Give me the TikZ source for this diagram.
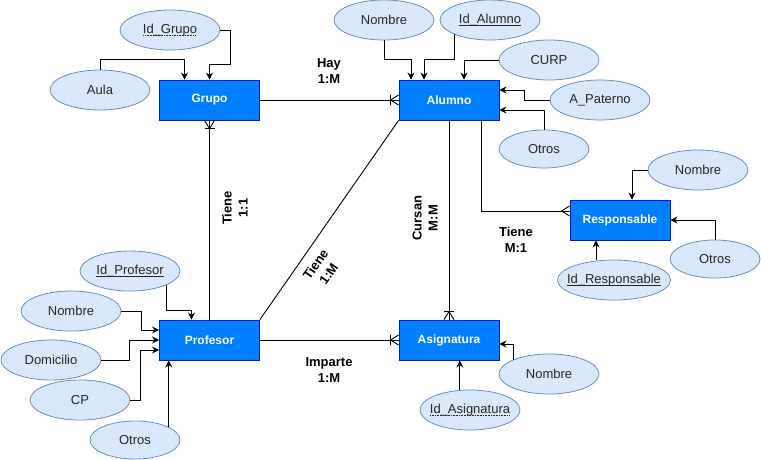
\documentclass[tikz,border=0pt]{standalone}
\usepackage{fontspec}
\setmainfont{Liberation Sans}
\usetikzlibrary{arrows.meta,shapes.geometric,calc}
\definecolor{entfill}{HTML}{007FFF}
\definecolor{entdraw}{HTML}{001DBC}
\definecolor{attfill}{HTML}{DAE8FC}
\definecolor{attdraw}{HTML}{6C8EBF}
\newcommand\myuline[1]{\setbox0\hbox{#1}\leavevmode\rlap{\raisebox{-2.6pt}{\rule{\wd0}{0.7pt}}}\box0}
\newcommand\mydotline[1]{\setbox0\hbox{#1}\leavevmode\rlap{\raisebox{-2.6pt}{\hbox to \wd0{\leaders\hbox to 1.6pt{\hss\rule{0.8pt}{0.8pt}\hss}\hfill}}}\box0}
\begin{document}
\begin{tikzpicture}[x=1pt,y=-1pt,
 ent/.style={draw=entdraw,fill=entfill,minimum width=100pt,minimum height=40pt,inner sep=0pt,text=white,font=\fontsize{12}{14}\selectfont\bfseries,line width=0.9pt},
 att/.style={ellipse,draw=attdraw,fill=attfill,minimum width=100pt,minimum height=40pt,inner sep=0pt,font=\fontsize{13}{15}\selectfont,text=black!85,line width=0.8pt},
 attsm/.style={att,minimum width=90pt,minimum height=38pt},
 con/.style={line width=0.9pt},
 arr/.style={con,-{Stealth[length=7pt,width=7pt]}},
 lbl/.style={font=\fontsize{13}{16}\selectfont\bfseries,align=center,inner sep=0pt},
]
\useasboundingbox (0,0) rectangle (761,459);
% entities
\node[ent] (grupo) at (209.5,100) {Grupo};
\node[ent] (alumno) at (449,100) {Alumno};
\node[ent] (prof) at (209.5,340) {Profesor};
\node[ent] (asig) at (449,340) {Asignatura};
\node[ent] (resp) at (620,220) {Responsable};
% attributes
\node[att] (idG) at (170,30) {\mydotline{Id\_Grupo}};
\node[att] (aula) at (100,90) {Aula};
\node[att] (nomA) at (384,20) {Nombre};
\node[att] (idA) at (490,20) {\myuline{Id\_Alumno}};
\node[att] (curp) at (549,60) {CURP};
\node[att] (apat) at (600,100) {A\_Paterno};
\node[attsm] (otrA) at (544,149) {Otros};
\node[att] (nomR) at (698,170) {Nombre};
\node[attsm] (otrR) at (715,259) {Otros};
\node[att,minimum width=113pt,inner xsep=-8pt] (idR) at (614,280) {\myuline{Id\_Responsable}};
\node[att] (idP) at (130,271) {\myuline{Id\_Profesor}};
\node[att] (nomP) at (71,311) {Nombre};
\node[att] (domP) at (51,360) {Domicilio};
\node[att] (cpP) at (80,400) {CP};
\node[attsm] (otrP) at (135,440) {Otros};
\node[att] (nomAs) at (549,374) {Nombre};
\node[att,inner xsep=-6pt] (idAs) at (470,410) {\mydotline{Id\_Asignatura}};
% attribute connectors
\draw[arr] (idG.east) -- ++(10,0) |- ([yshift=15pt]grupo.north) -- (grupo.north);
\draw[arr] (aula.north) |- ([xshift=-25pt,yshift=20pt]grupo.north) -- ([xshift=-25pt]grupo.north);
\draw[arr] (nomA.south) |- ([xshift=-38pt,yshift=20pt]alumno.north) -- ([xshift=-38pt]alumno.north);
\draw[arr] (idA.-158) |- ([xshift=-25pt,yshift=20pt]alumno.north) -- ([xshift=-25pt]alumno.north);
\draw[arr] (curp.west) -| ([xshift=15pt]alumno.north);
\draw[arr] (apat.west) -- ++(-25,0) |- ([yshift=10pt]alumno.east);
\draw[arr] (otrA.north) |- ([yshift=-10pt]alumno.east);
\draw[arr] (nomR.west) -| ([xshift=12pt]resp.north);
\draw[arr] (otrR.north) |- (resp.east);
\coordinate (rIn) at ([xshift=-24pt]resp.south);
\draw[arr] (idR.north -| rIn) -- (rIn);
\draw[arr] (idP.-21) |- ([xshift=-18pt,yshift=9pt]prof.north) -- ([xshift=-18pt]prof.north);
\draw[arr] (nomP.east) -- ++(20,0) |- ([yshift=10pt]prof.west);
\draw[arr] (domP.east) -- ++(28,0) |- (prof.west);
\draw[arr] (cpP.east) -- ++(10,0) |- ([yshift=-10pt]prof.west);
\draw[arr] (otrP.21) -- (otrP.21 |- prof.south);
\draw[arr] (nomAs.158) |- ([yshift=-4pt]asig.east);
\draw[arr] (idAs.117) -- (idAs.117 |- asig.south);
% relationships
\draw[con] (grupo.east) -- (alumno.west);
\draw[con] (grupo.south) -- (prof.north);
\draw[con] (alumno.south west) -- (prof.north east);
\draw[con] (alumno.south) -- (asig.north);
\draw[con] ([xshift=32pt]alumno.south) |- ([yshift=9pt]resp.west);
\draw[con] (prof.east) -- (asig.west);
% crow's feet
\draw[con] ([xshift=-8pt]alumno.west) ++(0,-5) -- ++(0,10);
\draw[con] ([yshift=5pt]alumno.west) -- ([xshift=-8pt]alumno.west) -- ([yshift=-5pt]alumno.west);
\draw[con] ([yshift=-8pt]grupo.south) ++(-5,0) -- ++(10,0);
\draw[con] ([xshift=-5pt]grupo.south) -- ([yshift=-8pt]grupo.south) -- ([xshift=5pt]grupo.south);
\draw[con] ([yshift=8pt]asig.north) ++(-5,0) -- ++(10,0);
\draw[con] ([xshift=-5pt]asig.north) -- ([yshift=8pt]asig.north) -- ([xshift=5pt]asig.north);
\draw[con] ([xshift=-8pt]asig.west) ++(0,-5) -- ++(0,10);
\draw[con] ([yshift=5pt]asig.west) -- ([xshift=-8pt]asig.west) -- ([yshift=-5pt]asig.west);
\draw[con] ([yshift=14pt]resp.west) -- ([xshift=-8pt,yshift=9pt]resp.west) -- ([yshift=4pt]resp.west);
% labels
\node[lbl] (lHay) at (329,71) {Hay\\1:M};
\node[lbl,rotate=90] (lT11) at (235,208) {Tiene\\1:1};
\node[lbl,rotate=90] (lCur) at (425,218) {Cursan\\M:M};
\node[lbl,rotate=55] (lT1M) at (322,269) {Tiene\\1:M};
\node[lbl] (lTM1) at (516,240) {Tiene\\M:1};
\node[lbl] (lImp) at (329,370) {Imparte\\1:M};
\end{tikzpicture}
\end{document}
